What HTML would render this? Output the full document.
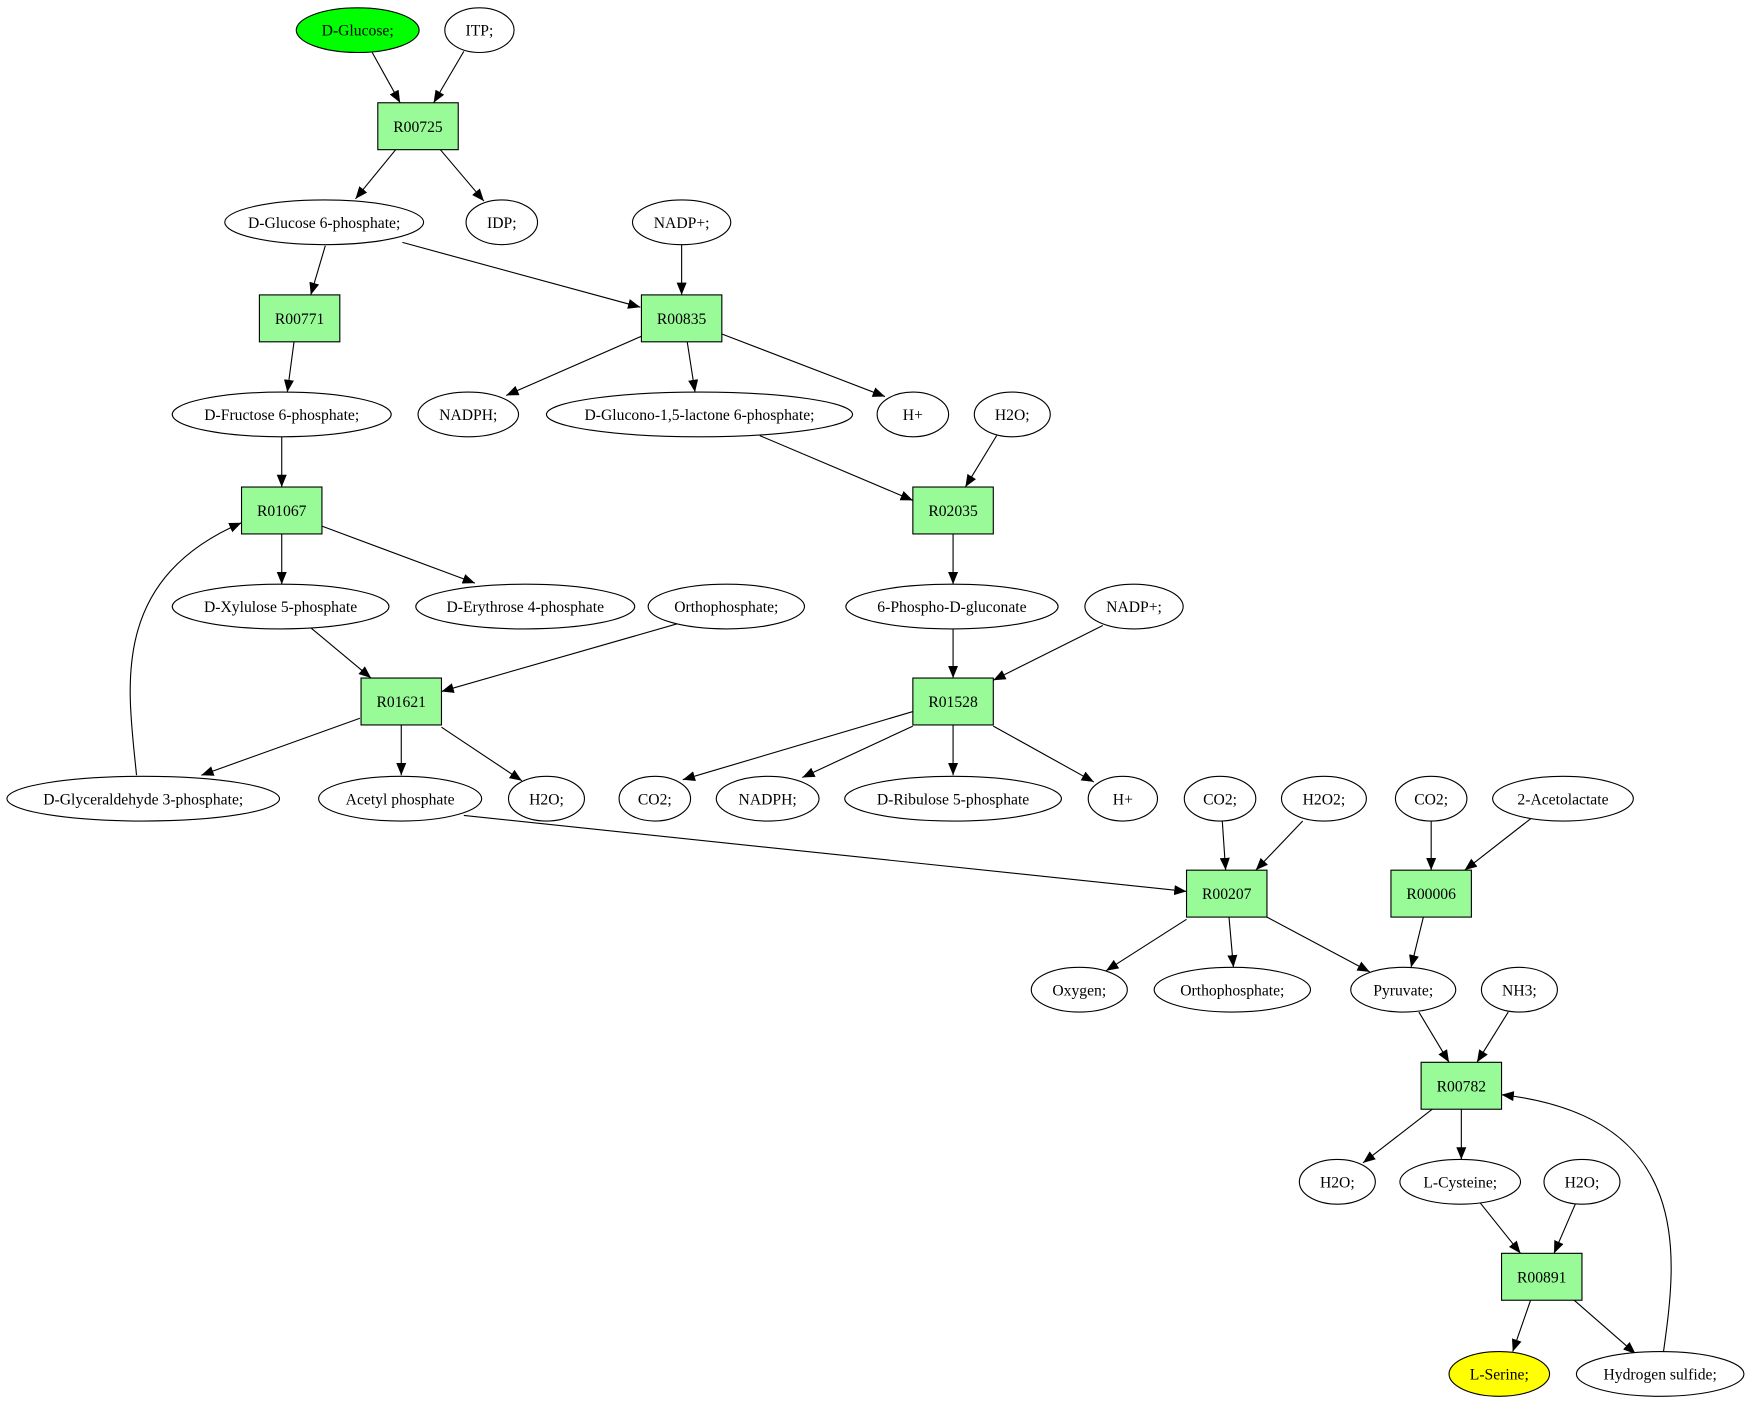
<!DOCTYPE html>
<html><head><meta charset="utf-8"><style>html,body{margin:0;padding:0;background:#fff}svg{display:block}</style></head>
<body>
<svg width="1752" height="1403" viewBox="0 0 1568 1256" xmlns="http://www.w3.org/2000/svg" font-family="Liberation Serif, serif" font-size="14">
<defs><marker id="a" markerUnits="userSpaceOnUse" markerWidth="12" markerHeight="10" refX="11" refY="4.5" orient="auto"><path d="M0,0 L11,4.5 L0,9 z" fill="#000"/></marker></defs>
<g stroke="#000" stroke-width="1" fill="none" marker-end="url(#a)">
<line x1="333" y1="47" x2="358" y2="92"/><line x1="415" y1="46" x2="388" y2="92"/>
<line x1="354" y1="134" x2="318" y2="178"/><line x1="394" y1="134" x2="433" y2="180"/>
<line x1="291" y1="220" x2="278" y2="264"/><line x1="360" y1="217" x2="573" y2="275"/>
<line x1="610" y1="219" x2="610" y2="264"/><line x1="263" y1="306" x2="257" y2="351"/>
<line x1="574" y1="301" x2="453" y2="354"/><line x1="615" y1="306" x2="622" y2="351"/>
<line x1="646" y1="299" x2="792" y2="355"/><line x1="252" y1="391" x2="252" y2="436"/>
<line x1="680" y1="390" x2="817" y2="448"/><line x1="892" y1="390" x2="864" y2="436"/>
<line x1="252" y1="478" x2="252" y2="523"/><line x1="288" y1="471" x2="425" y2="522"/>
<line x1="853" y1="478" x2="853" y2="523"/><line x1="278" y1="562" x2="332" y2="607"/>
<line x1="611" y1="557" x2="395" y2="619"/><line x1="853" y1="563" x2="853" y2="607"/>
<line x1="987" y1="560" x2="889" y2="609"/><line x1="322" y1="643" x2="180" y2="694"/>
<line x1="359" y1="649" x2="359" y2="694"/><line x1="395" y1="651" x2="467" y2="699"/>
<path d="M122,694 C115,620 95,520 216,468"/>
<line x1="817" y1="637" x2="611" y2="698"/><line x1="817" y1="650" x2="718" y2="696"/>
<line x1="853" y1="649" x2="853" y2="694"/><line x1="889" y1="650" x2="979" y2="700"/>
<line x1="415" y1="730" x2="1062" y2="798"/><line x1="1094" y1="735" x2="1097" y2="779"/>
<line x1="1166" y1="735" x2="1124" y2="779"/><line x1="1281" y1="735" x2="1281" y2="779"/>
<line x1="1370" y1="733" x2="1311" y2="779"/><line x1="1062" y1="823" x2="990" y2="869"/>
<line x1="1100" y1="821" x2="1104" y2="866"/><line x1="1134" y1="821" x2="1226" y2="870"/>
<line x1="1274" y1="821" x2="1263" y2="866"/><line x1="1270" y1="906" x2="1297" y2="951"/>
<line x1="1350" y1="906" x2="1322" y2="951"/><line x1="1282" y1="993" x2="1220" y2="1041"/>
<line x1="1308" y1="993" x2="1308" y2="1038"/><line x1="1325" y1="1077" x2="1361" y2="1122"/>
<line x1="1410" y1="1078" x2="1391" y2="1122"/><line x1="1370" y1="1164" x2="1354" y2="1210"/>
<line x1="1409" y1="1164" x2="1464" y2="1212"/>
<path d="M1489,1210 C1500,1130 1520,1000 1344,980"/>
</g>
<g stroke="#000" fill="#98fb98">
<rect x="338" y="92" width="72" height="42"/><rect x="232" y="264" width="72" height="42"/>
<rect x="574" y="264" width="72" height="42"/><rect x="216" y="436" width="72" height="42"/>
<rect x="817" y="436" width="72" height="42"/><rect x="323" y="607" width="72" height="42"/>
<rect x="817" y="607" width="72" height="42"/><rect x="1062" y="779" width="72" height="42"/>
<rect x="1245" y="779" width="72" height="42"/><rect x="1272" y="951" width="72" height="42"/>
<rect x="1344" y="1122" width="72" height="42"/>
</g>
<g stroke="#000" fill="#fff">
<ellipse cx="320" cy="27" rx="55" ry="20" fill="#00ff00"/><ellipse cx="429" cy="27" rx="31" ry="20"/>
<ellipse cx="290" cy="199" rx="89" ry="20"/><ellipse cx="449" cy="199" rx="32" ry="20"/><ellipse cx="610" cy="199" rx="44" ry="20"/>
<ellipse cx="252" cy="371" rx="98" ry="20"/><ellipse cx="419" cy="371" rx="45" ry="20"/><ellipse cx="626" cy="371" rx="137" ry="20"/><ellipse cx="817" cy="371" rx="32" ry="20"/><ellipse cx="906" cy="371" rx="34" ry="20"/>
<ellipse cx="251" cy="543" rx="97" ry="20"/><ellipse cx="470" cy="543" rx="98" ry="20"/><ellipse cx="650" cy="543" rx="70" ry="20"/><ellipse cx="852" cy="543" rx="95" ry="20"/><ellipse cx="1015" cy="543" rx="44" ry="20"/>
<ellipse cx="128" cy="715" rx="122" ry="20"/><ellipse cx="358" cy="715" rx="73" ry="20"/><ellipse cx="489" cy="715" rx="34" ry="20"/><ellipse cx="586" cy="715" rx="32" ry="20"/><ellipse cx="687" cy="715" rx="46" ry="20"/><ellipse cx="853" cy="715" rx="97" ry="20"/><ellipse cx="1005" cy="715" rx="31" ry="20"/><ellipse cx="1092" cy="715" rx="32" ry="20"/><ellipse cx="1185" cy="715" rx="38" ry="20"/><ellipse cx="1281" cy="715" rx="32" ry="20"/><ellipse cx="1399" cy="715" rx="63" ry="20"/>
<ellipse cx="966" cy="886" rx="43" ry="20"/><ellipse cx="1103" cy="886" rx="70" ry="20"/><ellipse cx="1256" cy="886" rx="47" ry="20"/><ellipse cx="1360" cy="886" rx="34" ry="20"/>
<ellipse cx="1197" cy="1058" rx="34" ry="20"/><ellipse cx="1307" cy="1058" rx="54" ry="20"/><ellipse cx="1416" cy="1058" rx="34" ry="20"/>
<ellipse cx="1342" cy="1230" rx="45" ry="20" fill="#ffff00"/><ellipse cx="1486" cy="1230" rx="75" ry="20"/>
</g>
<g text-anchor="middle" fill="#000">
<text x="320" y="32">D-Glucose;</text><text x="429" y="32">ITP;</text><text x="374" y="118">R00725</text>
<text x="290" y="204">D-Glucose 6-phosphate;</text><text x="449" y="204">IDP;</text><text x="610" y="204">NADP+;</text>
<text x="268" y="290">R00771</text><text x="610" y="290">R00835</text>
<text x="252" y="376">D-Fructose 6-phosphate;</text><text x="419" y="376">NADPH;</text><text x="626" y="376">D-Glucono-1,5-lactone 6-phosphate;</text><text x="817" y="376">H+</text><text x="906" y="376">H2O;</text>
<text x="252" y="462">R01067</text><text x="853" y="462">R02035</text>
<text x="251" y="548">D-Xylulose 5-phosphate</text><text x="470" y="548">D-Erythrose 4-phosphate</text><text x="650" y="548">Orthophosphate;</text><text x="852" y="548">6-Phospho-D-gluconate</text><text x="1015" y="548">NADP+;</text>
<text x="359" y="633">R01621</text><text x="853" y="633">R01528</text>
<text x="128" y="720">D-Glyceraldehyde 3-phosphate;</text><text x="358" y="720">Acetyl phosphate</text><text x="489" y="720">H2O;</text><text x="586" y="720">CO2;</text><text x="687" y="720">NADPH;</text><text x="853" y="720">D-Ribulose 5-phosphate</text><text x="1005" y="720">H+</text><text x="1092" y="720">CO2;</text><text x="1185" y="720">H2O2;</text><text x="1281" y="720">CO2;</text><text x="1399" y="720">2-Acetolactate</text>
<text x="1098" y="805">R00207</text><text x="1281" y="805">R00006</text>
<text x="966" y="891">Oxygen;</text><text x="1103" y="891">Orthophosphate;</text><text x="1256" y="891">Pyruvate;</text><text x="1360" y="891">NH3;</text>
<text x="1308" y="977">R00782</text>
<text x="1197" y="1063">H2O;</text><text x="1307" y="1063">L-Cysteine;</text><text x="1416" y="1063">H2O;</text>
<text x="1380" y="1148">R00891</text>
<text x="1342" y="1235">L-Serine;</text><text x="1486" y="1235">Hydrogen sulfide;</text>
</g>
</svg>
</body></html>
